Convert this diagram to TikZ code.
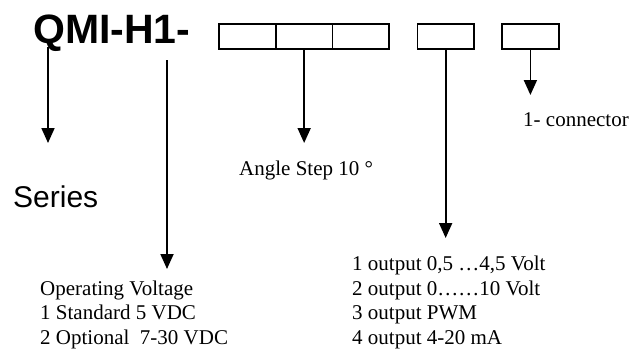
\documentclass[tikz,border=0pt]{standalone}
\usepackage{fontspec}
\setmainfont{Liberation Serif}
\newfontfamily\arialfont{Liberation Sans}
\usetikzlibrary{arrows.meta}
\begin{document}
\begin{tikzpicture}[x=1pt,y=-1pt,
  codebox/.style={draw,line width=1.8pt,minimum width=#1,minimum height=25pt,inner sep=0pt,anchor=north west},
  lbl/.style={inner sep=0pt,anchor=base west,font=\fontsize{21}{24.4}\selectfont,align=left},
  arr/.style={line width=1.8pt,-{Triangle[width=13pt,length=15pt]}}]
\useasboundingbox (0,0) rectangle (631,354);
\node[inner sep=0pt,anchor=base west,font=\arialfont\bfseries\fontsize{41}{41}\selectfont] (title) at (33,43) {QMI-H1-};
\node[codebox=57pt] (b1) at (218,23) {};
\node[codebox=56.5pt] (b2) at (275,23) {};
\node[codebox=56.5pt] (b3) at (331.5,23) {};
\node[codebox=56.5pt] (b4) at (416.5,23) {};
\node[codebox=57pt] (b5) at (501,23) {};
\node[inner sep=0pt,anchor=base west,font=\arialfont\fontsize{30}{30}\selectfont] (series) at (13,207) {Series};
\node[lbl] (angle) at (239,175) {Angle Step 10 °};
\node[lbl] (conn) at (523,126) {1- connector};
\node[lbl] (volt) at (40,344) {Operating Voltage\\1 Standard 5 VDC\\2 Optional\ \ 7-30 VDC};
\node[lbl] (out) at (352,344) {1 output 0,5 …4,5 Volt\\2 output 0……10 Volt\\3 output PWM\\4 output 4-20 mA};
\coordinate (s1) at (48,47);
\coordinate (s2) at (48,143);
\coordinate (v1) at (167,60);
\coordinate (v2) at (167,269);
\coordinate (a2) at (b2.south |- 0,143);
\coordinate (o2) at (b4.south |- 0,238);
\coordinate (c2) at (b5.south |- 0,95);
\draw[arr] (s1) -- (s2);
\draw[arr] (v1) -- (v2);
\draw[arr] (b2.south) -- (a2);
\draw[arr] (b4.south) -- (o2);
\draw[arr] (b5.south) -- (c2);
\end{tikzpicture}
\end{document}
